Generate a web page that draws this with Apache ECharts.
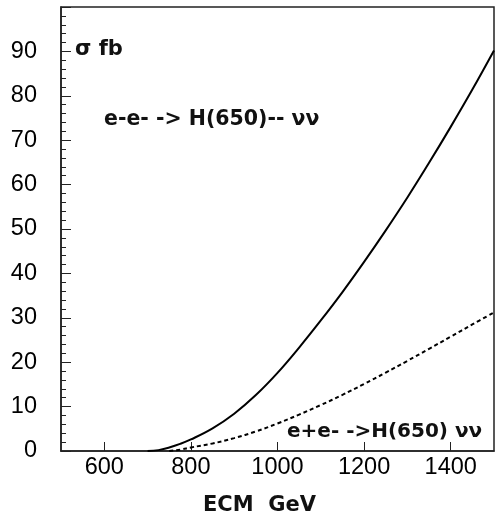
<!DOCTYPE html>
<html>
<head>
<meta charset="utf-8">
<script src="https://cdn.jsdelivr.net/npm/echarts@6/dist/echarts.min.js"></script>
<style>
html,body{margin:0;padding:0;background:#fff;}
#c{width:497px;height:518px;}
</style>
</head>
<body>
<div id="c"></div>
<script>
// ECM (GeV) and cross sections (fb)
var eeEcm   = [700, 725, 750, 775, 800, 850, 900, 950, 1000, 1050, 1100, 1150, 1200, 1250, 1300, 1350, 1400, 1450, 1500];
var eeSigma = [0, 0.2, 0.8, 1.6, 2.6, 5.1, 8.4, 12.6, 17.6, 23.3, 29.4, 35.8, 42.6, 49.7, 57.1, 64.9, 73.0, 81.4, 90.2];
var epEcm   = [750, 775, 800, 850, 900, 950, 1000, 1050, 1100, 1150, 1200, 1250, 1300, 1350, 1400, 1450, 1500];
var epSigma = [0, 0.3, 0.8, 1.7, 2.9, 4.4, 6.2, 8.2, 10.35, 12.65, 15.1, 17.65, 20.3, 23.0, 25.75, 28.5, 31.2];
var xTicks = [600, 800, 1000, 1200, 1400];
var yTicks = [0, 10, 20, 30, 40, 50, 60, 70, 80, 90];

var labelSigma = 'σ fb';
var labelEE = 'e-e- -> H(650)-- νν';
var labelEP = 'e+e- ->H(650) νν';
var xName = 'ECM  GeV';

function zip(a, b) { return a.map(function (v, k) { return [v, b[k]]; }); }

var chart = echarts.init(document.getElementById('c'));
var textFont = '"DejaVu Sans", sans-serif';
var numFont = '"Liberation Sans", Arial, sans-serif';
chart.setOption({
  animation: false,
  backgroundColor: '#fff',
  grid: { left: 61, right: 3, top: 7, bottom: 67, show: true, borderColor: '#222', borderWidth: 1.5, backgroundColor: 'transparent' },
  xAxis: {
    type: 'value', min: 500, max: 1500,
    axisLine: { show: true, lineStyle: { color: '#222', width: 1.5 } },
    axisTick: { show: true, inside: true, length: 9, customValues: xTicks, lineStyle: { color: '#222', width: 1 } },
    axisLabel: { customValues: xTicks, color: '#000', fontFamily: numFont, fontSize: 23.5, margin: 5,
      formatter: function (v) { return String(v); } },
    splitLine: { show: false }
  },
  yAxis: {
    type: 'value', min: 0, max: 100, interval: 10,
    axisLine: { show: true, lineStyle: { color: '#222', width: 1.5 } },
    axisTick: { show: true, inside: true, length: 10, lineStyle: { color: '#222', width: 1 } },
    minorTick: { show: true, splitNumber: 5, length: 5, lineStyle: { color: '#222', width: 1 } },
    axisLabel: { customValues: yTicks, color: '#000', fontFamily: numFont, fontSize: 23.5, margin: 24,
      formatter: function (v) { return String(v); } },
    splitLine: { show: false },
    minorSplitLine: { show: false }
  },
  series: [
    { type: 'line', data: zip(eeEcm, eeSigma), smooth: 0.4, showSymbol: false,
      lineStyle: { color: '#000', width: 2 } },
    { type: 'line', data: zip(epEcm, epSigma), smooth: 0.4, showSymbol: false,
      lineStyle: { color: '#000', width: 2, type: [4, 3] } }
  ],
  graphic: [
    { type: 'text', x: 75, y: 50, style: { text: labelSigma, font: 'bold 21px ' + textFont, fill: '#111', verticalAlign: 'middle' } },
    { type: 'text', x: 104, y: 120, style: { text: labelEE, font: 'bold 20.5px ' + textFont, fill: '#111', verticalAlign: 'middle' } },
    { type: 'text', x: 287, y: 432, style: { text: labelEP, font: 'bold 20px ' + textFont, fill: '#111', verticalAlign: 'middle' } },
    { type: 'text', x: 203, y: 506, style: { text: xName, font: 'bold 21px ' + textFont, fill: '#111', verticalAlign: 'middle' } }
  ]
});
</script>
</body>
</html>
